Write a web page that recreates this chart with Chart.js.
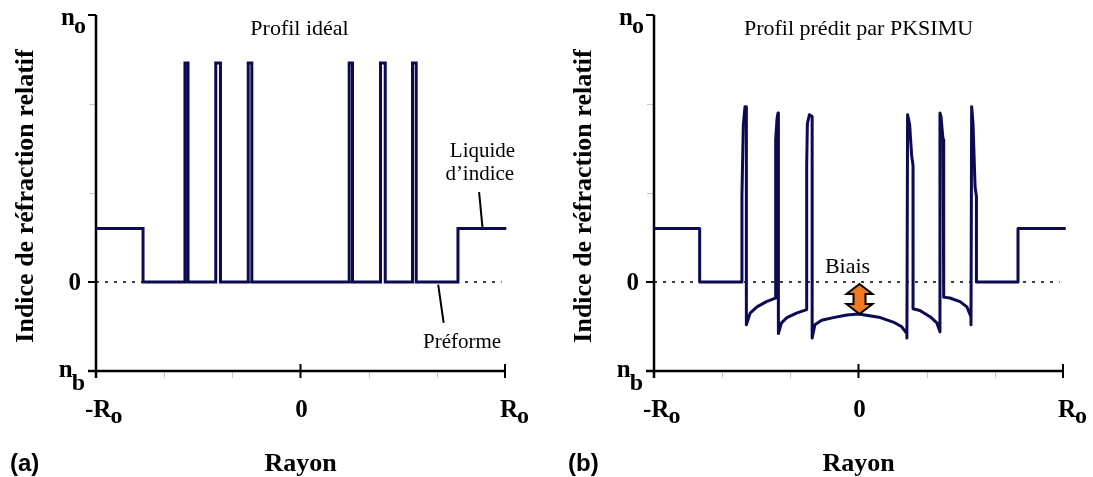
<!DOCTYPE html>
<html>
<head>
<meta charset="utf-8">
<script src="https://cdn.jsdelivr.net/npm/chart.js@4.4.0/dist/chart.umd.min.js"></script>
<style>
  html, body { margin: 0; padding: 0; background: #fff; }
  #wrap { position: relative; width: 1093px; height: 477px; overflow: hidden; }
  #chartA { position: absolute; left: 0; top: 0; }
  #chartB { position: absolute; left: 558px; top: 0; }
</style>
</head>
<body>
<div id="wrap">
  <canvas id="chartA" width="558" height="477"></canvas>
  <canvas id="chartB" width="535" height="477"></canvas>
</div>
<script>
// Radius in units of R0/3 (-3 = -R0, 3 = R0), index relative to n_b = -1 .. n_o = 3

// (a) ideal profile
const idealX = [-3, -2.31, -2.31, -1.695, -1.695, -1.65, -1.65, -1.243, -1.243, -1.174, -1.174, -0.767, -0.767, -0.714, -0.714,
  0.714, 0.714, 0.763, 0.763, 1.174, 1.174, 1.243, 1.243, 1.643, 1.643, 1.697, 1.697, 2.31, 2.31, 3.02];
const idealY = [0.60, 0.60, 0, 0, 2.46, 2.46, 0, 0, 2.46, 2.46, 0, 0, 2.46, 2.46, 0,
  0, 2.46, 2.46, 0, 0, 2.46, 2.46, 0, 0, 2.46, 2.46, 0, 0, 0.60, 0.60];

// (b) profile predicted by PKSIMU
const predX = [-3, -2.33, -2.33, -1.71, -1.71, -1.69, -1.665, -1.645, -1.645,
  -1.59, -1.49, -1.35, -1.22, -1.215, -1.195, -1.18, -1.175, -1.175,
  -1.13, -1.05, -0.91, -0.76, -0.76, -0.75, -0.72, -0.68, -0.68,
  -0.64, -0.54, -0.37, -0.17, 0, 0.32, 0.51, 0.63, 0.71, 0.71,
  0.72, 0.75, 0.78, 0.80, 0.80,
  0.90, 1.05, 1.15, 1.195, 1.195, 1.21, 1.24, 1.25,
  1.34, 1.49, 1.59, 1.65, 1.65, 1.66, 1.68, 1.71, 1.73, 1.73,
  2.34, 2.34, 3.04];
const predY = [0.60, 0.60, 0, 0, 0.96, 1.76, 1.97, 1.97, -0.48,
  -0.35, -0.28, -0.22, -0.18, 1.60, 1.84, 1.90, 1.90, -0.58,
  -0.46, -0.40, -0.35, -0.31, 1.31, 1.78, 1.88, 1.86, -0.63,
  -0.48, -0.43, -0.40, -0.37, -0.36, -0.40, -0.45, -0.50, -0.58, -0.63,
  1.88, 1.77, 1.42, 1.31, -0.30,
  -0.32, -0.39, -0.46, -0.56, 1.90, 1.86, 1.60, -0.17,
  -0.18, -0.22, -0.28, -0.39, -0.48, 1.97, 1.78, 1.07, 0.96, 0,
  0, 0.60, 0.60];

// dotted zero reference
const zeroX = [-3, 2.95];
const zeroY = [0, 0];

// axis ticks
const majorXTicks = [-3, 0, 3];
const minorXTicks = [-2, -1, 1, 2];
const majorYTicks = [-1, 0, 3];
const minorYTicks = [1, 2];

const NAVY = '#0b0a52';
const SERIF = '"Liberation Serif", "Times New Roman", serif';
const SANS = '"Liberation Sans", Arial, sans-serif';

function toPoints(xs, ys) {
  return xs.map((x, i) => ({ x: x, y: ys[i] }));
}

// text with a subscript, e.g. n_o, R_o
function drawSub(ctx, main, sub, x, y, align, subDy) {
  ctx.font = 'bold 25px ' + SERIF;
  const wm = ctx.measureText(main).width;
  ctx.font = 'bold 24px ' + SERIF;
  const ws = ctx.measureText(sub).width;
  let left = x;
  if (align === 'right') left = x - wm - ws;
  if (align === 'center') left = x - (wm + ws) / 2;
  ctx.textAlign = 'left';
  ctx.font = 'bold 25px ' + SERIF;
  ctx.fillText(main, left, y);
  ctx.font = 'bold 24px ' + SERIF;
  ctx.fillText(sub, left + wm - 1, y + subDy);
}

function panelPlugin(cfg) {
  return {
    id: 'panel' + cfg.letter,
    beforeDatasetsDraw(chart) {
      const ctx = chart.ctx;
      const xs = chart.scales.x, ys = chart.scales.y;
      const x0 = xs.getPixelForValue(-3), x1 = xs.getPixelForValue(3);
      const yTop = ys.getPixelForValue(3), yBot = ys.getPixelForValue(-1);
      ctx.save();
      // minor ticks (grey)
      ctx.strokeStyle = '#c8c8c8';
      ctx.lineWidth = 1;
      minorYTicks.forEach(v => {
        const p = Math.round(ys.getPixelForValue(v)) + 0.5;
        ctx.beginPath(); ctx.moveTo(x0 - 7, p); ctx.lineTo(x0, p); ctx.stroke();
      });
      minorXTicks.forEach(v => {
        const p = Math.round(xs.getPixelForValue(v)) + 0.5;
        ctx.beginPath(); ctx.moveTo(p, yBot); ctx.lineTo(p, yBot + 7); ctx.stroke();
      });
      // axes
      ctx.strokeStyle = '#000';
      ctx.lineWidth = 2.5;
      ctx.beginPath();
      ctx.moveTo(x0, yTop); ctx.lineTo(x0, yBot + 7);
      ctx.moveTo(x0 - 8, yBot); ctx.lineTo(x1, yBot);
      ctx.stroke();
      ctx.lineWidth = 2;
      majorYTicks.forEach(v => {
        const p = ys.getPixelForValue(v);
        ctx.beginPath(); ctx.moveTo(x0 - 8, p); ctx.lineTo(x0, p); ctx.stroke();
      });
      majorXTicks.forEach(v => {
        const p = xs.getPixelForValue(v);
        ctx.beginPath(); ctx.moveTo(p, yBot - 7); ctx.lineTo(p, yBot + 7); ctx.stroke();
      });
      ctx.restore();
    },
    afterDraw(chart) {
      const ctx = chart.ctx;
      const xs = chart.scales.x, ys = chart.scales.y;
      const x0 = xs.getPixelForValue(-3), xc = xs.getPixelForValue(0), x1 = xs.getPixelForValue(3);
      const yTop = ys.getPixelForValue(3), yZero = ys.getPixelForValue(0), yBot = ys.getPixelForValue(-1);
      ctx.save();
      ctx.fillStyle = '#000';
      ctx.textBaseline = 'alphabetic';

      // y tick labels
      drawSub(ctx, 'n', 'o', x0 - 9, yTop + 10, 'right', 8);
      ctx.font = 'bold 25px ' + SERIF;
      ctx.textAlign = 'right';
      ctx.fillText('0', x0 - 15, yZero + 8);
      drawSub(ctx, 'n', 'b', x0 - 10, yBot + 6, 'right', 13);

      // x tick labels
      drawSub(ctx, '-R', 'o', x0 - 11, yBot + 46, 'left', 6);
      ctx.font = 'bold 25px ' + SERIF;
      ctx.textAlign = 'center';
      ctx.fillText('0', xc + 1, yBot + 46);
      drawSub(ctx, 'R', 'o', x1 - 5, yBot + 46, 'left', 6);

      // axis titles
      ctx.font = 'bold 26px ' + SERIF;
      ctx.textAlign = 'center';
      ctx.fillText('Rayon', xc, 471);
      ctx.save();
      ctx.translate(x0 - 63, 196);
      ctx.rotate(-Math.PI / 2);
      ctx.fillText('Indice de réfraction relatif', 0, 0);
      ctx.restore();

      // panel letter
      ctx.font = 'bold 24px ' + SANS;
      ctx.textAlign = 'left';
      ctx.fillText('(' + cfg.letter + ')', x0 - 86, 471);

      // panel title
      ctx.font = '22px ' + SERIF;
      ctx.textAlign = 'center';
      ctx.fillText(cfg.title, xc + cfg.titleDx, 35);

      ctx.font = '21px ' + SERIF;
      if (cfg.letter === 'a') {
        ctx.fillText('Liquide', xs.getPixelForValue(2.67), 157);
        ctx.fillText('d\u2019indice', xs.getPixelForValue(2.63), 180);
        ctx.fillText('Préforme', xs.getPixelForValue(2.37), 348);
        ctx.strokeStyle = '#000';
        ctx.lineWidth = 2;
        ctx.beginPath();
        ctx.moveTo(xs.getPixelForValue(2.62), ys.getPixelForValue(1.01));
        ctx.lineTo(xs.getPixelForValue(2.67), ys.getPixelForValue(0.61));
        ctx.moveTo(xs.getPixelForValue(2.02), ys.getPixelForValue(-0.03));
        ctx.lineTo(xs.getPixelForValue(2.10), ys.getPixelForValue(-0.46));
        ctx.stroke();
      } else {
        ctx.font = '22px ' + SERIF;
        ctx.fillText('Biais', xc - 11, 273);
        // bias arrow between 0 and the centre of the predicted profile
        const cx = xc + 1;
        const top = yZero + 2, bot = ys.getPixelForValue(-0.36);
        ctx.beginPath();
        ctx.moveTo(cx, top);
        ctx.lineTo(cx + 13, top + 10);
        ctx.lineTo(cx + 6, top + 10);
        ctx.lineTo(cx + 6, bot - 10);
        ctx.lineTo(cx + 13, bot - 10);
        ctx.lineTo(cx, bot);
        ctx.lineTo(cx - 13, bot - 10);
        ctx.lineTo(cx - 6, bot - 10);
        ctx.lineTo(cx - 6, top + 10);
        ctx.lineTo(cx - 13, top + 10);
        ctx.closePath();
        ctx.fillStyle = '#f07a22';
        ctx.fill();
        ctx.strokeStyle = '#000';
        ctx.lineWidth = 2;
        ctx.stroke();
      }
      ctx.restore();
    }
  };
}

function makePanel(canvasId, xsArr, ysArr, cfg) {
  return new Chart(document.getElementById(canvasId), {
    type: 'line',
    data: {
      datasets: [
        {
          data: toPoints(zeroX, zeroY),
          borderColor: '#000',
          borderWidth: 1.5,
          borderDash: [3, 6],
          pointRadius: 0,
          order: 2
        },
        {
          data: toPoints(xsArr, ysArr),
          borderColor: NAVY,
          borderWidth: 3,
          borderJoinStyle: cfg.join,
          pointRadius: 0,
          tension: 0,
          clip: false,
          order: 1
        }
      ]
    },
    options: {
      responsive: false,
      animation: false,
      layout: { padding: { left: 96, right: cfg.padRight, top: 15, bottom: 106 } },
      plugins: { legend: { display: false }, tooltip: { enabled: false } },
      scales: {
        x: { type: 'linear', min: -3, max: 3, display: false },
        y: { type: 'linear', min: -1, max: 3, display: false }
      }
    },
    plugins: [panelPlugin(cfg)]
  });
}

makePanel('chartA', idealX, idealY, { letter: 'a', title: 'Profil idéal', titleDx: -1, padRight: 53, join: 'miter' });
makePanel('chartB', predX, predY, { letter: 'b', title: 'Profil prédit par PKSIMU', titleDx: 0, padRight: 30, join: 'round' });
</script>
</body>
</html>
